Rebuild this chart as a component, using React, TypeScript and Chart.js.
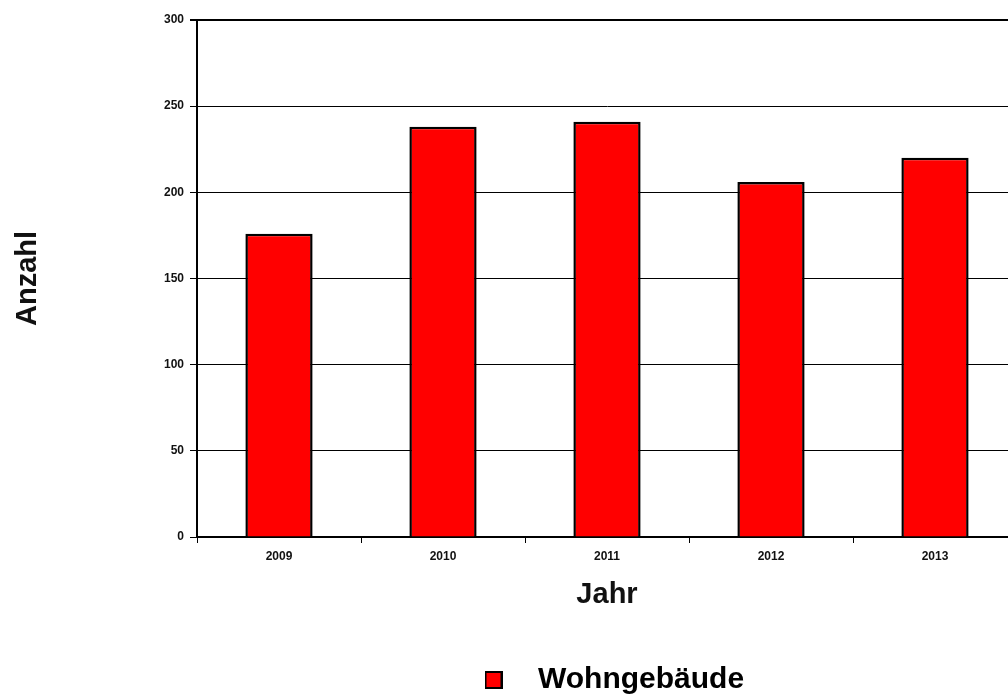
import React, { useEffect, useRef } from "react";
import { Chart, registerables } from "chart.js";

Chart.register(...registerables);

const years = ["2009", "2010", "2011", "2012", "2013"];
const wohngebaeude = [176, 238, 241, 206, 220];
const seriesLabel = "Wohngebäude";
const xTitle = "Jahr";
const yTitle = "Anzahl";
const yMin = 0;
const yMax = 300;
const yStep = 50;

const CANVAS_W = 1030;
const CANVAS_H = 695;

function makeLegendSwatch(): HTMLCanvasElement {
  const c = document.createElement("canvas");
  c.width = 18;
  c.height = 18;
  const ctx = c.getContext("2d")!;
  ctx.fillStyle = "#000000";
  ctx.fillRect(0, 0, 18, 18);
  ctx.fillStyle = "#ff0000";
  ctx.fillRect(2, 2, 14, 14);
  return c;
}

const legendShift = {
  id: "legendShift",
  afterLayout(chart: any) {
    const lg = chart.legend;
    if (!lg) return;
    const targetLeft = 462;
    const w = lg.right - lg.left;
    lg.left = targetLeft;
    lg.right = targetLeft + w;
    lg.top += 10;
    lg.bottom += 10;
  },
};

export default function App() {
  const ref = useRef<HTMLCanvasElement>(null);

  useEffect(() => {
    if (!ref.current) return;
    const swatch = makeLegendSwatch();
    const chart = new Chart(ref.current, {
      type: "bar",
      data: {
        labels: years,
        datasets: [
          {
            label: seriesLabel,
            data: wohngebaeude,
            backgroundColor: "#ff0000",
            borderColor: "#000000",
            borderWidth: 2.5,
            categoryPercentage: 1,
            barPercentage: 0.41,
            pointStyle: swatch as any,
          },
        ],
      },
      options: {
        responsive: false,
        animation: false,
        layout: { padding: { left: 0, right: CANVAS_W - 1017, top: 20, bottom: 0 } },
        plugins: {
          tooltip: { enabled: false },
          legend: {
            position: "bottom",
            align: "start",
            labels: {
              usePointStyle: true,
              pointStyleWidth: 59,
              padding: 2,
              color: "#000000",
              font: { family: "Liberation Sans, Arial, sans-serif", size: 30, weight: "bold" },
            },
          },
        },
        scales: {
          x: {
            offset: true,
            afterFit: (scale: any) => {
              scale.height = 116;
            },
            grid: {
              offset: true,
              drawOnChartArea: false,
              drawTicks: true,
              tickLength: 6,
              color: "#000000",
              lineWidth: 1,
            },
            border: { display: true, color: "#000000", width: 2 },
            ticks: {
              padding: 6,
              color: "#111111",
              font: { family: "Liberation Sans, Arial, sans-serif", size: 12, weight: "bold" },
            },
            title: {
              display: true,
              text: xTitle,
              color: "#111111",
              padding: { top: 0, bottom: 41 },
              font: { family: "Liberation Sans, Arial, sans-serif", size: 29, weight: "bold" },
            },
          },
          y: {
            min: yMin,
            max: yMax,
            afterFit: (scale: any) => {
              scale.width = 197;
            },
            grid: {
              color: "#000000",
              lineWidth: (ctx: any) => (ctx.tick && ctx.tick.value === yMax ? 2 : 1),
              tickLength: 7,
              drawTicks: true,
            },
            border: { display: true, color: "#000000", width: 2 },
            ticks: {
              stepSize: yStep,
              padding: 6,
              color: "#111111",
              font: { family: "Liberation Sans, Arial, sans-serif", size: 12, weight: "bold" },
            },
            title: {
              display: true,
              text: yTitle,
              color: "#111111",
              padding: { top: 11, bottom: 0 },
              font: { family: "Liberation Sans, Arial, sans-serif", size: 29, weight: "bold" },
            },
          },
        },
      },
      plugins: [legendShift],
    });
    return () => chart.destroy();
  }, []);

  return (
    <div
      style={{
        position: "fixed",
        left: 0,
        top: 0,
        width: 1008,
        height: 695,
        overflow: "hidden",
        background: "#ffffff",
      }}
    >
      <canvas ref={ref} width={CANVAS_W} height={CANVAS_H} style={{ display: "block" }} />
    </div>
  );
}
